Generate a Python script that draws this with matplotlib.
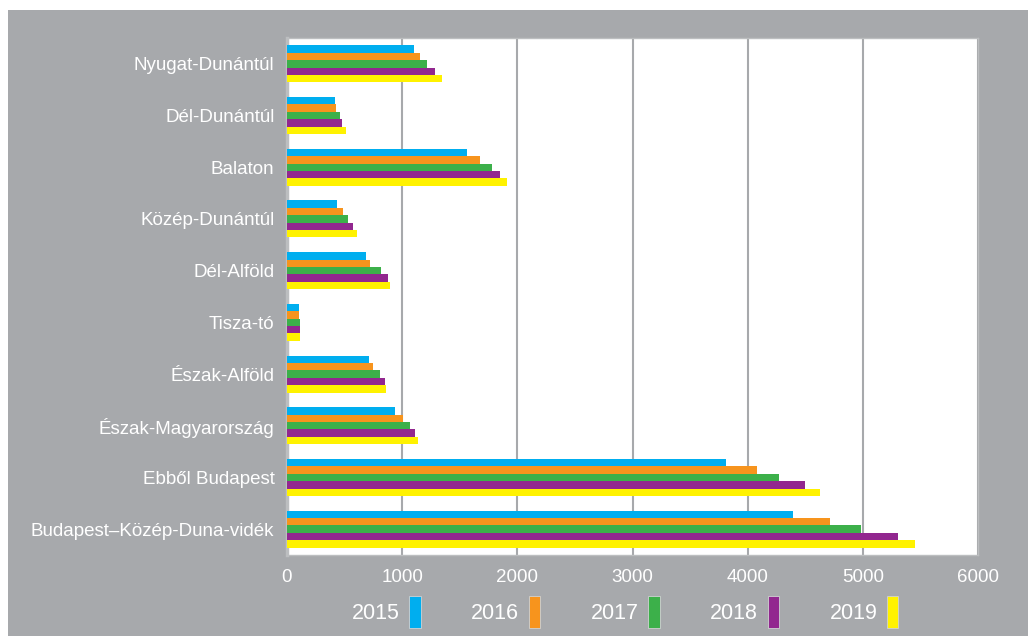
import matplotlib.pyplot as plt
from matplotlib.patches import Rectangle
import numpy as np

plt.rcParams['font.family'] = ['Liberation Sans', 'DejaVu Sans']

# regions, top to bottom
regions = ['Nyugat-Dunántúl', 'Dél-Dunántúl', 'Balaton', 'Közép-Dunántúl',
           'Dél-Alföld', 'Tisza-tó', 'Észak-Alföld', 'Észak-Magyarország',
           'Ebből Budapest', 'Budapest–Közép-Duna-vidék']
years = ['2015', '2016', '2017', '2018', '2019']
v2015 = [1100, 417, 1562, 432, 684, 104, 713, 939, 3813, 4396]
v2016 = [1157, 426, 1678, 484, 722, 104, 748, 1006, 4085, 4714]
v2017 = [1215, 461, 1780, 533, 812, 113, 809, 1070, 4275, 4986]
v2018 = [1287, 475, 1852, 577, 881, 113, 852, 1113, 4497, 5308]
v2019 = [1345, 513, 1910, 606, 896, 113, 861, 1136, 4628, 5451]
colors = ['#00aeef', '#f7941d', '#3cb04a', '#92278f', '#fff200']

bg = '#a7a9ac'

fig = plt.figure(figsize=(10.28, 6.36), dpi=100, facecolor='white')
# gray panel (thin white strip at top and left)
fig.patches.append(Rectangle((8 / 1028, 0), 1, 1 - 10 / 636, transform=fig.transFigure,
                             facecolor=bg, edgecolor='none', zorder=-10))

ax = fig.add_axes([287 / 1028, 1 - 555 / 636, (978 - 287) / 1028, (555 - 38) / 636])
ax.set_facecolor('white')

y = np.arange(len(regions))
h = 0.143
for i, (vals, c, lab) in enumerate(zip([v2015, v2016, v2017, v2018, v2019], colors, years)):
    ax.barh(y + (i - 2) * h, vals, height=h, color=c, label=lab,
            linewidth=0, zorder=3)

ax.set_xlim(0, 6000)
ax.set_ylim(len(regions) - 0.5, -0.5)
ax.set_xticks(range(0, 6001, 1000))
ax.set_yticks(y)
ax.set_yticklabels(regions)
ax.xaxis.grid(True, color=bg, linewidth=1.5, zorder=0)
ax.set_axisbelow(True)
ax.tick_params(axis='both', length=0, colors='white', labelsize=13.5)
ax.tick_params(axis='x', pad=10)
ax.tick_params(axis='y', pad=9)
for s in ['top', 'right', 'bottom']:
    ax.spines[s].set_color('#bcbec0')
    ax.spines[s].set_linewidth(1)
ax.spines['left'].set_color('#bcbec0')
ax.spines['left'].set_linewidth(2.5)

leg = fig.legend(loc='center', bbox_to_anchor=(625 / 1028, 1 - 612 / 636), ncol=5,
                 frameon=False, markerfirst=False, fontsize=15.5, labelcolor='white',
                 handlelength=0.52, handleheight=1.85, handletextpad=0.45,
                 columnspacing=2.35)
for p in leg.get_patches():
    p.set_edgecolor('#d0d2d3')
    p.set_linewidth(0.6)

fig.savefig('out.png', dpi=100, facecolor=fig.get_facecolor())
